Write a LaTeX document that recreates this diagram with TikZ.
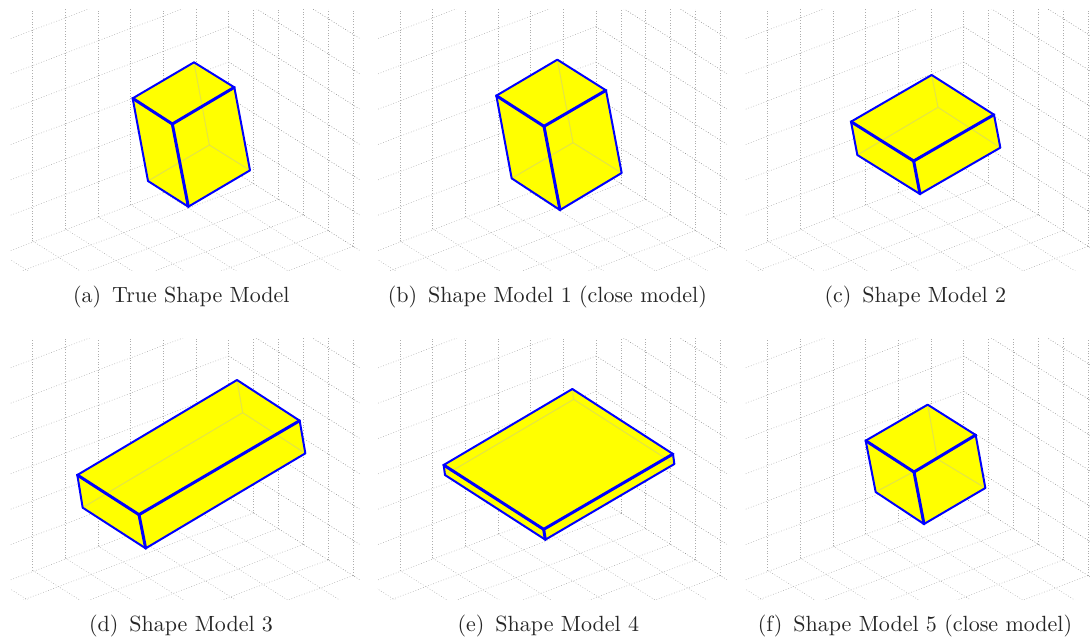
\documentclass[tikz,border=0pt]{standalone}
\usepackage{xcolor}
\definecolor{boxblue}{RGB}{0,0,255}
\definecolor{boxyellow}{RGB}{255,255,0}
\definecolor{boxhidden}{RGB}{228,228,70}
% grid of the three walls, origin at #1
\newcommand{\gridwalls}[1]{
  \begin{scope}[shift={(#1)}]
    \clip (30,28) rectangle (1078,810);
    \foreach \k in {0,...,6} \draw[griddot] (686,504-106*\k) -- ++(-700,265);
    \foreach \k in {1,...,6} \draw[griddark] (686,504-106*\k) -- ++(450,283);
    \foreach \i in {0,...,6} \draw[griddot] (686-98*\i,504+36.5*\i) -- (686-98*\i,0);
    \foreach \j in {1,...,5} \draw[griddot] (686+74.5*\j,504+47*\j) -- (686+74.5*\j,0);
    \foreach \i in {1,...,7} \draw[griddot] (686-98*\i,504+36.5*\i) -- ++(600,378);
    \foreach \j in {1,...,5} \draw[griddot] (686+74.5*\j,504+47*\j) -- ++(-800,302);
    \draw[griddark] (686,504) -- ++(450,283);
  \end{scope}
}
% shifted box: top corners A B C D, then bottom corners under A, D, C, B
\newcommand{\shapebox}[9]{
  \begin{scope}[shift={(#1)}]
    \coordinate (A) at (#2); \coordinate (B) at (#3); \coordinate (C) at (#4); \coordinate (D) at (#5);
    \coordinate (E) at (#6); \coordinate (F) at (#7); \coordinate (G) at (#8); \coordinate (H) at (#9);
    \fill[boxyellow] (A)--(B)--(C)--(G)--(F)--(E)--cycle;
    \draw[hiddenedge] (B)--(H); \draw[hiddenedge] (H)--(E); \draw[hiddenedge] (H)--(G);
    \draw[backedge] (A)--(B)--(C); \draw[backedge] (A)--(E)--(F)--(G)--(C);
    \draw[frontedge] (A)--(D); \draw[frontedge] (C)--(D); \draw[frontedge] (D)--(F);
  \end{scope}
}
\begin{document}
\begin{tikzpicture}[x=0.33333pt,y=-0.33333pt,
    griddot/.style={color=black!32,line width=0.5pt,dash pattern=on 0.8pt off 1.9pt},
    griddark/.style={color=black!48,line width=0.5pt,dash pattern=on 0.8pt off 1.9pt},
    hiddenedge/.style={color=boxhidden,line width=1pt},
    backedge/.style={color=boxblue,line width=2pt,line join=round},
    frontedge/.style={color=boxblue,line width=3pt,line cap=round},
    captext/.style={scale=2.2,text=black!85}]
  \useasboundingbox (0,0) rectangle (3270,1923);
  \foreach \o in {{0,0},{1102,0},{2205,0},{0,988},{1102,988},{2205,988}} {\gridwalls{\o}}
  \shapebox{0,0}{398,295}{582,187}{703,262}{517,372}{444,543}{565,620}{750,511}{628,435}
  \shapebox{1089,0}{400,287}{583,179}{729,271}{543,379}{446,535}{591,630}{776,519}{630,428}
  \shapebox{2178,0}{375,365}{617,225}{804,344}{563,483}{394,465}{582,582}{823,443}{636,322}
  \shapebox{0,960}{232,465}{711,180}{899,302}{417,584}{248,563}{437,685}{916,400}{728,278}
  \shapebox{1089,960}{242,435}{628,207}{930,402}{542,628}{246,465}{547,659}{934,432}{632,238}
  \shapebox{2178,960}{419,362}{605,254}{749,345}{564,456}{449,516}{594,612}{778,504}{634,417}
  \node[captext] (capa) at (544,892) {(a)\enspace True Shape Model};
  \node[captext] (capb) at (1642,892) {(b)\enspace Shape Model 1 (close model)};
  \node[captext] (capc) at (2746,892) {(c)\enspace Shape Model 2};
  \node[captext] (capd) at (543,1877) {(d)\enspace Shape Model 3};
  \node[captext] (cape) at (1645,1877) {(e)\enspace Shape Model 4};
  \node[captext] (capf) at (2745,1877) {(f)\enspace Shape Model 5 (close model)};
\end{tikzpicture}
\end{document}
